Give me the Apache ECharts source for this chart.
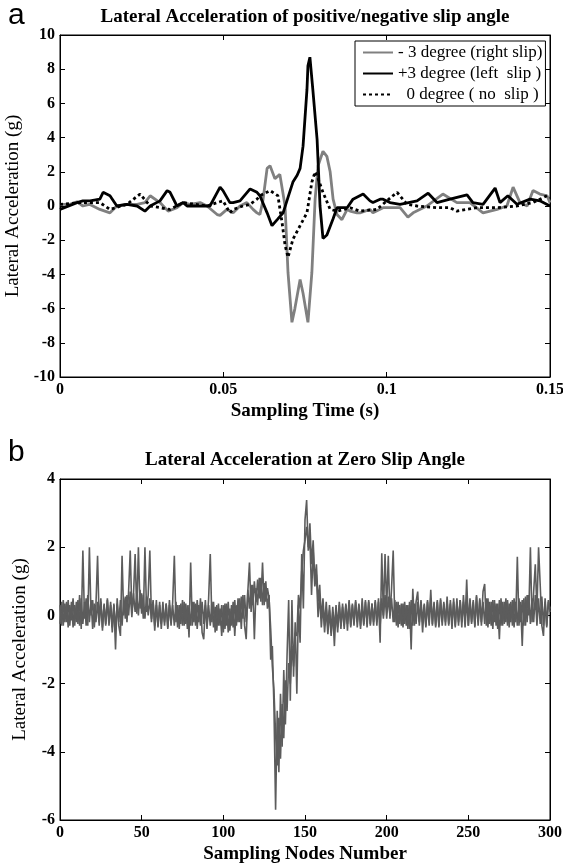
<!DOCTYPE html>
<html><head><meta charset="utf-8">
<script src="https://cdn.jsdelivr.net/npm/echarts@6/dist/echarts.min.js"></script>
<style>html,body{margin:0;padding:0;background:#fff}#c{width:563px;height:867px}</style>
</head><body><div id="c"></div>
<script>
// ---------- Panel a data ([time (s), lateral acceleration (g)]) ----------
const seriesNamesA = ['- 3 degree (right slip)', '+3 degree (left  slip )', '  0 degree ( no  slip )'];
const minus3Deg = [[0,0.1],[0.0006,0.2],[0.003,0.1],[0.0052,0.25],[0.007,0.0],[0.009,0.1],[0.0122,-0.2],[0.0153,-0.4],[0.0174,0.0],[0.0205,0.1],[0.0236,0.1],[0.026,0.2],[0.0276,0.6],[0.0306,0.2],[0.0331,-0.3],[0.0358,-0.1],[0.0377,0.2],[0.0398,0.1],[0.0429,0.2],[0.045,0.0],[0.0481,-0.5],[0.049,-0.55],[0.0511,-0.2],[0.053,-0.4],[0.0551,0.0],[0.0572,0.2],[0.0591,-0.2],[0.0603,-0.4],[0.0612,-0.5],[0.0621,0.3],[0.0634,2.2],[0.0643,2.35],[0.0658,1.6],[0.0673,1.85],[0.0689,0.0],[0.0698,-3.9],[0.071,-6.8],[0.0719,-6.0],[0.0726,-5.25],[0.0735,-4.3],[0.0744,-5.1],[0.0759,-6.8],[0.0771,-3.9],[0.0781,0.4],[0.079,2.35],[0.0805,3.2],[0.0817,2.9],[0.0827,2.0],[0.0836,0.4],[0.0848,-0.5],[0.0863,-0.8],[0.0879,-0.2],[0.0888,-0.3],[0.0909,-0.4],[0.0918,-0.4],[0.0949,-0.2],[0.0958,-0.4],[0.0989,-0.1],[0.101,-0.1],[0.1041,-0.1],[0.1047,-0.2],[0.1065,-0.65],[0.1081,-0.4],[0.1123,0.0],[0.1172,0.7],[0.1215,0.2],[0.1255,0.2],[0.1295,-0.4],[0.1338,-0.2],[0.1368,0.0],[0.1387,1.1],[0.1408,0.2],[0.143,0.0],[0.1448,0.9],[0.1469,0.7],[0.1491,0.6],[0.15,0.2]];
const plus3Deg = [[0,-0.2],[0.0006,-0.2],[0.0052,0.2],[0.007,0.3],[0.0092,0.3],[0.0122,0.4],[0.0132,0.8],[0.0153,0.6],[0.0174,0.0],[0.0205,0.1],[0.0236,0.0],[0.026,-0.3],[0.0276,0.0],[0.0306,0.3],[0.0328,0.9],[0.0337,0.8],[0.0358,0.0],[0.0377,0.2],[0.0389,0.0],[0.0398,0.0],[0.0429,0.0],[0.0459,0.0],[0.049,1.1],[0.0499,0.9],[0.052,0.2],[0.053,0.2],[0.0551,0.3],[0.0582,1.0],[0.0603,0.8],[0.0612,0.6],[0.0634,-0.4],[0.0649,-1.15],[0.0665,-0.8],[0.0683,-0.4],[0.0698,0.5],[0.0713,1.4],[0.0726,1.8],[0.0735,2.2],[0.0744,3.5],[0.0756,6.8],[0.0759,8.2],[0.0765,8.7],[0.0774,6.8],[0.0787,3.9],[0.0796,0.0],[0.0805,-1.9],[0.0817,-1.7],[0.0836,-0.75],[0.0848,-0.1],[0.0879,-0.1],[0.0897,0.4],[0.0928,0.7],[0.0949,0.3],[0.0958,0.2],[0.098,0.4],[0.0989,0.4],[0.101,0.2],[0.1041,0.1],[0.1093,0.3],[0.1127,0.75],[0.1154,0.2],[0.1194,0.4],[0.1246,0.65],[0.1264,0.2],[0.1295,0.1],[0.1332,1.05],[0.1347,0.2],[0.1371,0.6],[0.1399,0.1],[0.1439,0.4],[0.1469,0.3],[0.15,0.0]];
const zeroDeg = [[0,0.1],[0.007,0.2],[0.0122,0.2],[0.0153,-0.2],[0.0205,0.1],[0.0245,0.7],[0.0276,0.0],[0.0337,-0.2],[0.0377,0.2],[0.045,0.0],[0.0481,0.2],[0.0499,0.3],[0.052,-0.4],[0.053,-0.2],[0.056,0.0],[0.0582,0.1],[0.0603,0.4],[0.0612,0.6],[0.0643,0.9],[0.0667,0.6],[0.068,-1.0],[0.0689,-2.3],[0.0698,-3.0],[0.0713,-1.95],[0.0735,-1.15],[0.0756,-0.4],[0.0771,1.4],[0.0781,2.0],[0.079,1.6],[0.0805,0.8],[0.0827,-0.2],[0.0848,-0.3],[0.0888,-0.1],[0.0918,-0.3],[0.097,-0.2],[0.1019,0.6],[0.1032,0.8],[0.1062,0.1],[0.1093,0.0],[0.1154,-0.1],[0.1194,-0.1],[0.1215,-0.3],[0.1277,-0.1],[0.1338,-0.1],[0.1399,0.0],[0.1448,0.2],[0.1491,0.6],[0.15,0.5]];

// ---------- Panel b data (value per sampling node 0..300, overlaid runs) ----------
const zeroSlipRun1 = [
0.3,-0.3,0.45,-0.2,0.4,-0.35,0.3,-0.15,0.5,-0.3,
0.4,-0.25,0.6,-0.4,1.9,-0.1,0.5,-0.3,2.0,0.0,
0.45,-0.35,0.3,1.75,-0.2,0.4,-0.45,0.35,-0.3,0.5,
-0.2,0.3,-0.5,0.35,-1.0,0.5,-0.3,-0.6,1.75,0.0,
0.55,-0.2,0.7,1.9,0.1,0.6,1.8,0.05,2.0,0.2,
0.65,-0.1,2.0,0.1,0.6,1.9,-0.1,0.45,-0.45,0.3,
-0.3,0.4,-0.4,0.2,-0.2,0.35,-0.35,0.3,-0.3,0.4,
1.75,-0.2,0.3,-0.4,0.35,-0.3,0.4,-0.25,0.3,-0.65,
1.55,-0.3,0.4,-0.3,0.45,-0.2,0.5,-0.5,-0.7,0.3,
-0.3,0.5,1.8,-0.2,0.4,-0.5,0.3,-0.3,0.2,-0.6,
0.3,-0.4,0.35,-0.5,0.2,-0.3,0.4,-0.6,0.3,-0.2,
0.5,-0.4,0.6,-0.3,-0.7,0.7,1.55,0.1,0.9,-0.7,
0.8,0.3,1.1,0.4,1.55,0.3,1.0,0.2,0.6,-1.3,
-0.9,-2.7,-5.7,-2.8,-4.6,-2.3,-3.85,-1.6,-3.2,-1.2,
0.45,-2.5,0.45,-1.8,-0.2,-2.3,0.3,-0.8,1.8,0.2,
2.8,3.38,1.9,2.3,0.6,1.9,0.85,1.2,-0.05,0.6,
-0.35,0.3,-0.5,0.2,-0.55,0.15,-0.6,0.1,-0.9,0.2,
-0.5,0.3,-0.4,0.35,-0.3,0.3,-0.45,0.4,-0.3,0.35,
-0.2,0.45,-0.35,0.3,-0.3,0.5,-0.25,0.4,-0.2,0.45,
-0.3,0.35,-0.2,0.4,-0.3,0.5,-0.8,1.82,0.0,1.8,
0.2,1.75,-0.1,0.8,1.9,-0.2,0.4,-0.35,0.3,-0.3,
0.35,-0.25,0.3,-0.4,0.4,-1.0,0.78,-0.3,0.4,0.7,
-0.2,0.4,-0.5,0.3,-0.3,0.45,-0.2,0.75,-0.3,0.4,
-0.35,0.45,-0.3,0.5,-0.2,0.4,-0.3,0.55,-0.25,0.35,
-0.4,0.5,-0.3,0.4,-0.2,0.45,-0.35,0.6,-0.2,1.05,
-0.3,0.5,-0.2,0.45,-0.35,0.6,-0.3,0.5,-0.2,0.7,
0.92,-0.3,0.5,-0.25,0.4,-0.4,0.45,-0.3,0.35,-0.7,
0.5,-0.3,0.4,-0.2,0.45,-0.35,0.4,-0.3,0.5,-0.2,
1.72,-0.3,0.4,-0.9,0.5,-0.3,0.6,0.0,2.0,-0.2,
0.7,1.5,0.1,2.0,0.9,-0.3,-0.6,0.5,-0.3,0.4,
0.2];
const zeroSlipRun2 = [
-0.25,0.4,-0.3,0.35,-0.2,0.45,-0.3,0.4,-0.35,0.3,
-0.2,0.45,-0.3,0.5,-0.25,0.4,-0.3,0.6,-0.2,0.45,
-0.4,0.35,-0.2,0.4,-0.3,0.5,-0.35,0.3,-0.25,0.45,
-0.3,0.4,-0.35,0.3,-0.4,0.35,-0.2,0.45,-0.3,0.5,
-0.1,0.6,0.0,0.7,-0.05,0.65,0.1,0.6,0.0,0.75,
0.05,0.6,-0.1,0.55,0.0,0.5,-0.2,0.4,-0.3,0.45,
-0.35,0.3,-0.25,0.4,-0.3,0.35,-0.4,0.45,-0.2,0.3,
-0.3,0.4,-0.35,0.3,-0.25,0.45,-0.3,0.35,-0.4,0.3,
-0.3,0.4,-0.2,0.35,-0.4,0.3,-0.3,0.4,-0.25,0.45,
-0.4,0.3,-0.3,0.4,-0.35,0.25,-0.45,0.35,-0.3,0.3,
-0.5,0.35,-0.3,0.4,-0.45,0.3,-0.35,0.45,-0.3,0.5,
-0.2,0.55,-0.1,0.6,-0.2,0.75,0.2,0.9,0.3,1.0,
0.4,1.05,0.5,1.1,0.3,0.95,0.4,0.8,0.5,-0.4,
-1.5,-2.2,-3.5,-4.4,-3.0,-4.2,-2.6,-3.6,-1.9,-2.8,
-1.4,-2.0,-0.9,-1.5,-0.5,-0.6,0.6,0.2,1.3,1.9,
2.2,2.6,2.0,2.7,1.5,2.2,1.0,1.5,0.4,0.9,
-0.1,0.5,-0.3,0.4,-0.35,0.3,-0.5,0.25,-0.4,0.3,
-0.35,0.4,-0.3,0.25,-0.4,0.35,-0.25,0.45,-0.35,0.3,
-0.3,0.4,-0.2,0.35,-0.4,0.3,-0.3,0.45,-0.35,0.4,
-0.25,0.35,-0.3,0.45,-0.2,0.4,-0.3,0.5,-0.1,0.6,
-0.1,0.55,0.0,0.5,-0.2,0.45,-0.3,0.4,-0.25,0.35,
-0.35,0.4,-0.3,0.3,-0.4,0.45,-0.3,0.35,-0.25,0.4,
-0.3,0.45,-0.2,0.35,-0.35,0.4,-0.3,0.5,-0.25,0.35,
-0.3,0.4,-0.35,0.45,-0.3,0.35,-0.2,0.4,-0.3,0.45,
-0.25,0.4,-0.35,0.5,-0.3,0.45,-0.2,0.4,-0.35,0.5,
-0.3,0.45,-0.25,0.4,-0.3,0.55,-0.2,0.45,-0.3,0.4,
-0.25,0.5,-0.35,0.4,-0.3,0.45,-0.2,0.35,-0.4,0.45,
-0.3,0.4,-0.25,0.5,-0.3,0.35,-0.2,0.45,-0.35,0.4,
-0.3,0.5,-0.2,0.45,-0.3,0.55,-0.2,0.6,-0.25,0.5,
-0.2,0.6,-0.3,0.5,-0.25,0.55,-0.3,0.4,-0.35,0.45,
0.1];

const titleA = 'Lateral Acceleration of positive/negative slip angle';
const titleB = 'Lateral Acceleration at Zero Slip Angle';
const yNameText = 'Lateral Acceleration (g)';
const xNameA = 'Sampling Time (s)';
const xNameB = 'Sampling Nodes Number';

// ---------- chart ----------
const serif = '"Liberation Serif", "Times New Roman", serif';
const chart = echarts.init(document.getElementById('c'), null, {renderer: 'canvas'});

function xAx(grid, min, max, interval, pos, name) {
  const show = pos === 'bottom';
  return {
    gridIndex: grid, type: 'value', min: min, max: max, interval: interval, position: pos,
    axisLine: {onZero: false, lineStyle: {color: '#000', width: 1}},
    axisTick: {inside: true, length: 5, lineStyle: {color: '#000'}},
    axisLabel: {show: show, color: '#000', fontFamily: serif, fontWeight: 'bold', fontSize: 16, margin: 5},
    splitLine: {show: false},
    name: show ? name : '', nameLocation: 'middle', nameGap: 25,
    nameTextStyle: {color: '#000', fontFamily: serif, fontWeight: 'bold', fontSize: 19}
  };
}
function yAx(grid, min, max, interval, pos) {
  const show = pos === 'left';
  return {
    gridIndex: grid, type: 'value', min: min, max: max, interval: interval, position: pos,
    axisLine: {onZero: false, lineStyle: {color: '#000', width: 1}},
    axisTick: {inside: true, length: 5, lineStyle: {color: '#000'}},
    axisLabel: {show: show, color: '#000', fontFamily: serif, fontWeight: 'bold', fontSize: 16, margin: 5},
    splitLine: {show: false},
    name: show ? yNameText : '', nameLocation: 'middle', nameGap: 30, nameRotate: 90,
    nameTextStyle: {color: '#000', fontFamily: serif, fontSize: 19}
  };
}

const option = {
  animation: false,
  backgroundColor: '#fff',
  graphic: [
    {type: 'text', x: 305, y: 17, style: {text: titleA, font: 'bold 19px "Liberation Serif"', fill: '#000', align: 'center', verticalAlign: 'middle', textAlign: 'center', textVerticalAlign: 'middle'}},
    {type: 'text', x: 305, y: 460, style: {text: titleB, font: 'bold 19px "Liberation Serif"', fill: '#000', align: 'center', verticalAlign: 'middle', textAlign: 'center', textVerticalAlign: 'middle'}},
    {type: 'text', x: 8, y: 16, style: {text: 'a', font: '30px "Liberation Sans"', fill: '#000', align: 'left', verticalAlign: 'middle', textAlign: 'left', textVerticalAlign: 'middle'}},
    {type: 'text', x: 8, y: 453, style: {text: 'b', font: '30px "Liberation Sans"', fill: '#000', align: 'left', verticalAlign: 'middle', textAlign: 'left', textVerticalAlign: 'middle'}}
  ],
  legend: {
    data: seriesNamesA, orient: 'vertical', left: 355, top: 41,
    backgroundColor: '#fff', borderColor: '#000', borderWidth: 1, borderRadius: 0,
    padding: [3, 3, 3, 7], itemGap: 4, itemWidth: 30, itemHeight: 14, itemTextGap: 8,
    selectedMode: false,
    itemStyle: {opacity: 0},
    textStyle: {color: '#000', fontFamily: serif, fontSize: 17}
  },
  grid: [
    {left: 60, top: 35, width: 490, height: 342, show: true, borderColor: '#000', borderWidth: 1, backgroundColor: 'transparent', outerBoundsMode: 'none', containLabel: false},
    {left: 60, top: 479, width: 490, height: 341, show: true, borderColor: '#000', borderWidth: 1, backgroundColor: 'transparent', outerBoundsMode: 'none', containLabel: false}
  ],
  xAxis: [
    xAx(0, 0, 0.15, 0.05, 'bottom', xNameA),
    xAx(0, 0, 0.15, 0.05, 'top', ''),
    xAx(1, 0, 300, 50, 'bottom', xNameB),
    xAx(1, 0, 300, 50, 'top', '')
  ],
  yAxis: [
    yAx(0, -10, 10, 2, 'left'),
    yAx(0, -10, 10, 2, 'right'),
    yAx(1, -6, 4, 2, 'left'),
    yAx(1, -6, 4, 2, 'right')
  ],
  series: [
    {type: 'line', name: seriesNamesA[0], xAxisIndex: 0, yAxisIndex: 0, data: minus3Deg, symbol: 'none',
      lineStyle: {color: '#808080', width: 2.8}, itemStyle: {color: '#808080'}},
    {type: 'line', name: seriesNamesA[1], xAxisIndex: 0, yAxisIndex: 0, data: plus3Deg, symbol: 'none',
      lineStyle: {color: '#000', width: 2.8}, itemStyle: {color: '#000'}},
    {type: 'line', name: seriesNamesA[2], xAxisIndex: 0, yAxisIndex: 0, data: zeroDeg, symbol: 'none',
      lineStyle: {color: '#000', width: 2.8, type: [3, 3]}, itemStyle: {color: '#000'}},
    {type: 'line', name: 'zero slip run 2', xAxisIndex: 2, yAxisIndex: 2,
      data: zeroSlipRun2.map(function (v, i) { return [i, v]; }), symbol: 'none',
      lineStyle: {color: '#5c5c5c', width: 1.6}, itemStyle: {color: '#5c5c5c'}},
    {type: 'line', name: 'zero slip run 1', xAxisIndex: 2, yAxisIndex: 2,
      data: zeroSlipRun1.map(function (v, i) { return [i, v]; }), symbol: 'none',
      lineStyle: {color: '#5c5c5c', width: 1.6}, itemStyle: {color: '#5c5c5c'}}
  ]
};
chart.setOption(option);
</script></body></html>
